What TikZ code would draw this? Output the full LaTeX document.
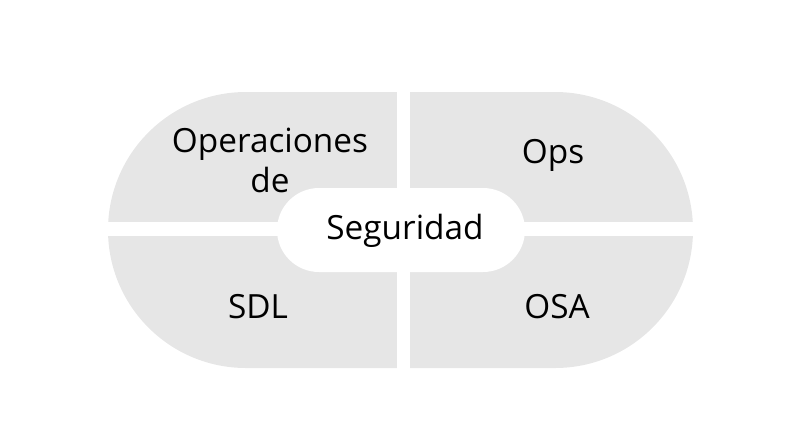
\documentclass[tikz,border=0pt]{standalone}
\usepackage{fontspec}
\setmainfont{Open Sans}
\definecolor{pane}{HTML}{E6E6E6}
\begin{document}
\begin{tikzpicture}[x=0.75pt,y=-0.75pt,
  lbl/.style={font=\fontsize{25}{30}\selectfont, text=black, align=center}]
\useasboundingbox (0,0) rectangle (805,440);
\fill[pane, rounded corners=103.5pt] (108,92) rectangle (693,368);
\fill[white] (397,80) rectangle (410,380);
\fill[white] (100,222) rectangle (700,236);
\fill[white, rounded corners=31.5pt] (277,188) rectangle (525,272);
\node[lbl] (a) at (270,160) {Operaciones\\de};
\node[lbl] (b) at (553,155) {Ops};
\node[lbl] (c) at (405,231) {Seguridad};
\node[lbl] (d) at (258,307) {SDL};
\node[lbl] (e) at (557,307) {OSA};
\end{tikzpicture}
\end{document}
